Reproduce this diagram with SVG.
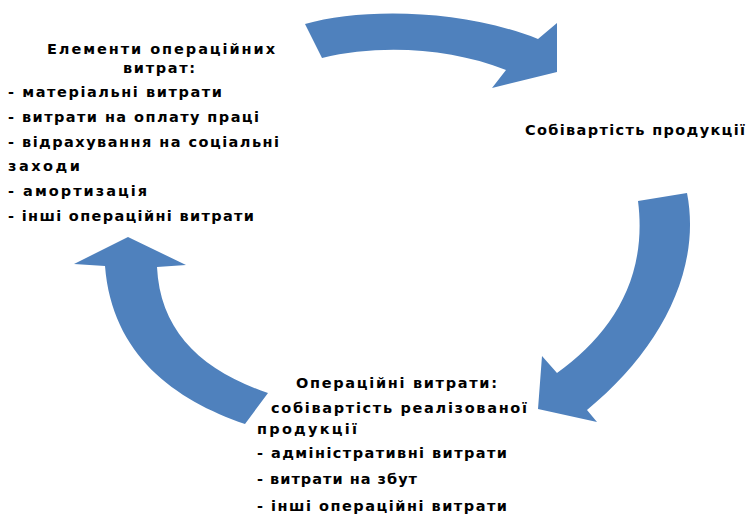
<svg xmlns="http://www.w3.org/2000/svg" width="750" height="514" viewBox="0 0 750 514">
<style>
.t{font-family:"DejaVu Sans","Liberation Sans",sans-serif;font-weight:bold;font-size:14.5px;fill:#000}
.a{fill:#4F81BD;stroke:none}
</style>
<rect width="750" height="514" fill="#fff"/>
<g id="connectors">
<path class="a" d="M305,24 C360,8 460,8 538,39 L557,23 L557,72 L492,88 L506,70 C450,48 380,44 322,58 Z"/>
<path class="a" d="M638,201 L687,193 C702,270 660,350 587,410 L597,422 L538,409 L542,356 L557,373 C610,335 648,280 638,201 Z"/>
<path class="a" d="M128,237 L186,265 L157,267 C160,330 200,370 268,393 L245,424 C175,400 112,355 105,266 L74,264 Z"/>
</g>
<g id="node-elements">
<text class="t" x="47" y="54" textLength="228" lengthAdjust="spacing">Елементи операційних</text>
<text class="t" x="123" y="73" textLength="72" lengthAdjust="spacing">витрат:</text>
<text class="t" x="8" y="97" textLength="214" lengthAdjust="spacing">- матеріальні витрати</text>
<text class="t" x="8" y="122" textLength="251" lengthAdjust="spacing">- витрати на оплату праці</text>
<text class="t" x="8" y="147" textLength="271" lengthAdjust="spacing">- відрахування на соціальні</text>
<text class="t" x="8" y="171" textLength="72" lengthAdjust="spacing">заходи</text>
<text class="t" x="8" y="196" textLength="139" lengthAdjust="spacing">- амортизація</text>
<text class="t" x="8" y="221" textLength="246" lengthAdjust="spacing">- інші операційні витрати</text>
</g>
<g id="node-cost">
<text class="t" x="525" y="135" textLength="220" lengthAdjust="spacing">Собівартість продукції</text>
</g>
<g id="node-operating">
<text class="t" x="296" y="388" textLength="201" lengthAdjust="spacing">Операційні витрати:</text>
<text class="t" x="271" y="413" textLength="256" lengthAdjust="spacing">собівартість реалізованої</text>
<text class="t" x="257" y="434" textLength="100" lengthAdjust="spacing">продукції</text>
<text class="t" x="257" y="458" textLength="250" lengthAdjust="spacing">- адміністративні витрати</text>
<text class="t" x="257" y="484" textLength="160" lengthAdjust="spacing">- витрати на збут</text>
<text class="t" x="257" y="511" textLength="250" lengthAdjust="spacing">- інші операційні витрати</text>
</g>
</svg>
